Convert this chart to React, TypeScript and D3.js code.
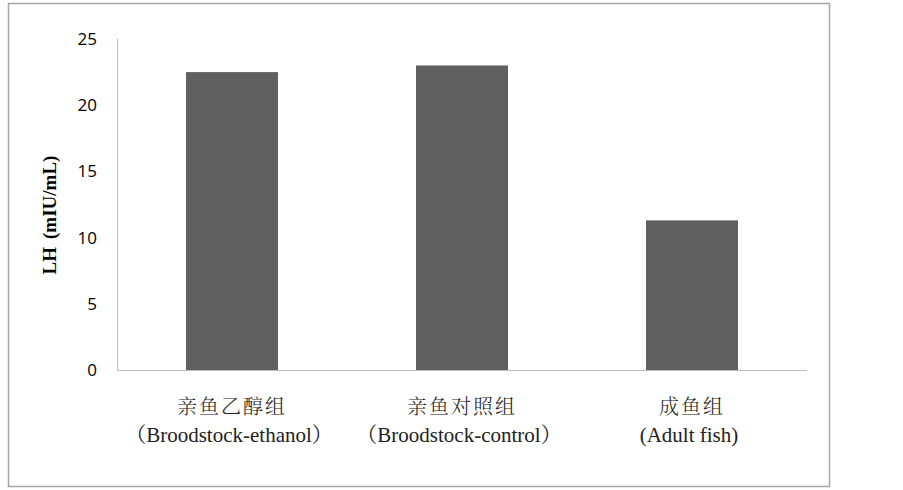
import React, { useRef, useEffect } from 'react';
import * as d3 from 'd3';

// Chart data
const categoriesZh = ['亲鱼乙醇组', '亲鱼对照组', '成鱼组'];
const categoriesEn = ['（Broodstock-ethanol）', '（Broodstock-control）', '(Adult fish)'];
const lhValues = [22.5, 23.0, 11.3];
const yTicks = [0, 5, 10, 15, 20, 25];

const serif = "'Liberation Serif', 'Noto Serif CJK SC', serif";

const App = () => {
  const chartRef = useRef<SVGSVGElement | null>(null);

  useEffect(() => {
    const plot = { left: 117, right: 807, top: 39, bottom: 370 };

    const svg = d3.select(chartRef.current);
    svg.selectAll('*').remove();

    // Outer frame
    svg
      .append('rect')
      .attr('x', 8.5)
      .attr('y', 3.5)
      .attr('width', 821)
      .attr('height', 483)
      .attr('fill', 'white')
      .attr('stroke', '#a6a6a6')
      .attr('stroke-width', 1.5);

    const x = d3
      .scaleBand<number>()
      .domain(lhValues.map((_, i) => i))
      .range([plot.left, plot.right])
      .paddingInner(0.6)
      .paddingOuter(0.3);

    const y = d3
      .scaleLinear()
      .domain([0, 25])
      .range([plot.bottom, plot.top]);

    // Bars
    svg
      .selectAll('.bar')
      .data(lhValues)
      .enter()
      .append('rect')
      .attr('x', (_, i) => x(i)!)
      .attr('y', (d) => y(d))
      .attr('width', x.bandwidth())
      .attr('height', (d) => y(0) - y(d))
      .attr('fill', '#606060');

    // Y axis line
    svg
      .append('line')
      .attr('x1', plot.left + 0.5)
      .attr('x2', plot.left + 0.5)
      .attr('y1', y(25))
      .attr('y2', y(0))
      .attr('stroke', '#bfbfbf');

    // X axis line
    svg
      .append('line')
      .attr('x1', plot.left)
      .attr('x2', plot.right)
      .attr('y1', y(0) + 0.5)
      .attr('y2', y(0) + 0.5)
      .attr('stroke', '#bfbfbf');

    // Y tick labels
    svg
      .selectAll('.ytick')
      .data(yTicks)
      .enter()
      .append('text')
      .attr('x', 97)
      .attr('y', (d) => y(d))
      .attr('dy', '0.35em')
      .attr('text-anchor', 'end')
      .style('font-family', "'Open Sans', 'Liberation Sans', sans-serif")
      .style('font-size', '17px')
      .attr('fill', '#000')
      .text((d) => d);

    // Y axis title
    const title = svg
      .append('text')
      .attr('transform', 'translate(56,215) rotate(-90)')
      .attr('text-anchor', 'middle')
      .style('font-family', serif)
      .style('font-weight', 'bold')
      .style('font-size', '19px');
    title.append('tspan').text('LH');
    title.append('tspan').attr('dx', 8).text('(mIU/mL)');

    // Category labels
    const cx = (i: number) => x(i)! + x.bandwidth() / 2;
    svg
      .selectAll('.catZh')
      .data(categoriesZh)
      .enter()
      .append('text')
      .attr('x', (_, i) => cx(i))
      .attr('y', 414)
      .attr('text-anchor', 'middle')
      .style('font-family', "'Noto Serif CJK SC', serif")
      .style('font-weight', 300)
      .style('font-size', '20px')
      .style('letter-spacing', '2px')
      .attr('fill', '#222')
      .text((d) => d);

    svg
      .selectAll('.catEn')
      .data(categoriesEn)
      .enter()
      .append('text')
      .attr('x', (_, i) => cx(i) - 3)
      .attr('y', 442)
      .attr('text-anchor', 'middle')
      .style('font-family', serif)
      .style('font-size', '21px')
      .attr('fill', '#222')
      .text((d) => d);
  }, []);

  return (
    <svg
      ref={chartRef}
      width={903}
      height={490}
      style={{ position: 'absolute', left: 0, top: 0, background: 'white' }}
    />
  );
};

export default App;
